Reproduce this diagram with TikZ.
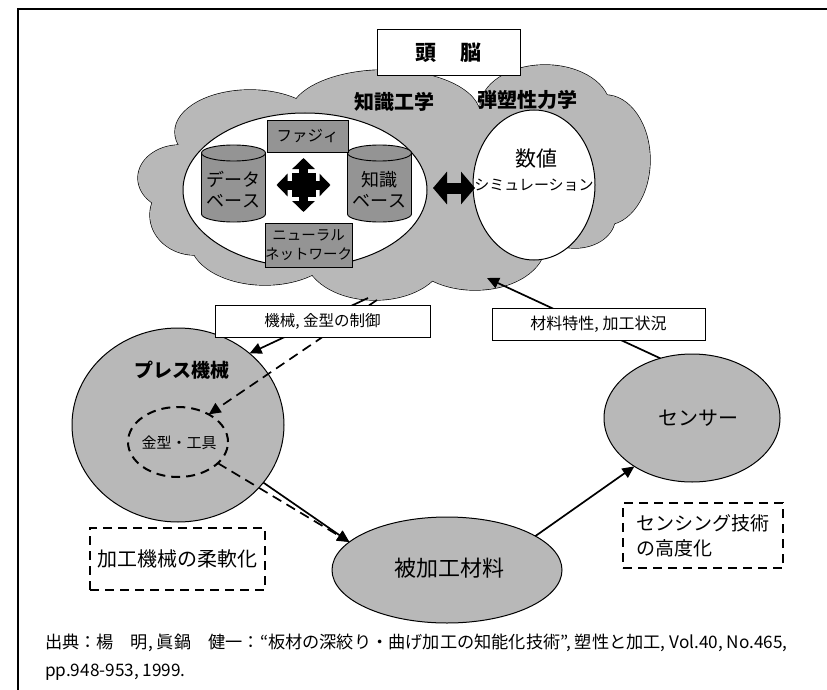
\documentclass[tikz,border=0pt]{standalone}
\usepackage{fontspec}
\setmainfont{Noto Sans CJK JP}
\usetikzlibrary{shapes.geometric,arrows.meta}
\definecolor{cloudgray}{gray}{0.72}
\definecolor{boxgray}{gray}{0.58}
\newcommand{\setfs}[2]{\fontsize{#1}{#2}\selectfont}
\begin{document}
\begin{tikzpicture}[x=1pt,y=-1pt,
  every node/.style={inner sep=0pt, outer sep=0pt},
  frameline/.style={line width=1.8pt},
  cloudline/.style={line width=1.3pt},
  blob/.style={ellipse, draw, line width=1pt, fill=cloudgray},
  graybox/.style={draw, line width=0.9pt, fill=boxgray},
  lbl/.style={draw, line width=0.9pt, fill=white},
  arr/.style={line width=1.7pt, -{Triangle[length=12pt,width=11pt]}},
  darr/.style={arr, dash pattern=on 10pt off 6pt},
  dbox/.style={draw, line width=1.6pt, dash pattern=on 9pt off 6pt},
  fat/.style={line width=9pt, -{Triangle[length=11pt,width=22pt]}},
]
\useasboundingbox (0,0) rectangle (827,690);
\draw[frameline] (18,690) -- (18,9) -- (827,9);

% cloud
\foreach \cx/\cy/\rx/\ry in {180/178/42/33, 250/132/75/42, 385/115/95/45, 545/108/65/43, 605/160/45/65, 575/218/40/30, 475/245/70/45, 375/255/70/45, 265/240/75/45, 195/215/45/40, 400/180/200/80}
  \draw[cloudline] (\cx,\cy) ellipse ({\rx} and {\ry});
\foreach \cx/\cy/\rx/\ry in {180/178/42/33, 250/132/75/42, 385/115/95/45, 545/108/65/43, 605/160/45/65, 575/218/40/30, 475/245/70/45, 375/255/70/45, 265/240/75/45, 195/215/45/40, 400/180/200/80}
  \fill[cloudgray] (\cx,\cy) ellipse ({\rx} and {\ry});

\node[lbl, line width=1pt, minimum width=143pt, minimum height=46pt, font=\bfseries\setfs{21}{25}] (brain) at (448.5,53) {頭\hspace{25pt}脳};
\node[font=\bfseries\setfs{20}{24}] (ke) at (394,102) {知識工学};
\node[font=\bfseries\setfs{20}{24}] (pm) at (527,100) {弾塑性力学};

% knowledge ellipse and simulation
\node[ellipse, draw, fill=white, line width=1pt, minimum width=244pt, minimum height=154pt] (kb) at (305,190) {};
\node[ellipse, draw, fill=white, line width=1pt, minimum width=122pt, minimum height=150pt] (sim) at (534,185) {};
\node[font=\setfs{21}{25}] (simtxt1) at (536,159) {数値};
\node[font=\setfs{15}{18}] (simtxt2) at (534,185) {シミュレーション};

% cylinders
\foreach \cx in {233.5,379.5} {
  \filldraw[fill=boxgray, line width=0.9pt] (\cx,214) ellipse (32 and 8);
  \fill[boxgray] (\cx-32,153) rectangle (\cx+32,214);
  \draw[line width=0.9pt] (\cx-32,153) -- (\cx-32,214) (\cx+32,153) -- (\cx+32,214);
  \filldraw[fill=boxgray, line width=0.9pt] (\cx,153) ellipse (32 and 8);
}
\node[align=center, font=\setfs{18}{21}] (db) at (233.5,190) {データ\\ベース};
\node[align=center, font=\setfs{18}{21}] (kbase) at (379.5,190) {知識\\ベース};
\node[graybox, minimum width=81pt, minimum height=32pt, font=\setfs{15.5}{18}] (fuzzy) at (307.5,136) {ファジィ};
\node[graybox, minimum width=87pt, minimum height=44pt, align=center, font=\setfs{14.5}{19}] (nn) at (308.5,245) {ニューラル\\ネットワーク};

% four-way arrow
\coordinate (hub) at (303.5,185);
\fill (hub) +(-12,-12) rectangle +(12,12);
\foreach \a in {0,90,180,270}
  \draw[fat] (hub) -- ++(\a:27);

% double arrow
\coordinate (dl) at (433,188);
\coordinate (dr) at (475,188);
\draw[line width=11pt, {Triangle[length=14pt,width=32pt]}-{Triangle[length=14pt,width=32pt]}] (dl) -- (dr);

% lower blobs
\node[blob, minimum width=212pt, minimum height=194pt] (press) at (178,425) {};
\node[font=\bfseries\setfs{19}{23}] (presstxt) at (182,370) {プレス機械};
\node[ellipse, dbox, line width=2pt, minimum width=100pt, minimum height=70pt] (tool) at (178,442) {};
\node[font=\setfs{15}{18}] (tooltxt) at (179,443) {金型・工具};
\node[blob, minimum width=176pt, minimum height=128pt] (sensor) at (692,418) {};
\node[font=\setfs{20}{24}] (sensortxt) at (698,418) {センサー};
\node[blob, minimum width=230pt, minimum height=106pt] (mat) at (447,570) {};
\node[font=\setfs{22}{26}] (mattxt) at (449,568) {被加工材料};

% arrows
\coordinate (cA) at (368,298);
\coordinate (cB) at (377,300);
\coordinate (cC) at (487,278);
\draw[arr] (cA) -- (press.45);
\draw[darr] (cB) -- (tool.42);
\draw[arr] (press.-34) -- (mat.164);
\draw[darr] (tool.-28) -- (mat.164);
\draw[arr] (mat.21) -- (sensor.220);
\draw[arr] (sensor.118) -- (cC);

% labels
\node[lbl, minimum width=215pt, minimum height=32pt, font=\setfs{15.5}{18}] (ctl) at (322.5,321) {機械, 金型の制御};
\node[lbl, minimum width=213pt, minimum height=32pt, font=\setfs{16}{19}] (prop) at (598.5,324) {材料特性, 加工状況};

% dashed boxes
\node[dbox, minimum width=175pt, minimum height=62pt, font=\setfs{20}{24}] (flex) at (177.5,559) {加工機械の柔軟化};
\node[dbox, minimum width=160pt, minimum height=65pt, align=left, font=\setfs{19}{25}] (sens) at (703,535.5) {センシング技術\\の高度化};

% caption
\node[anchor=base west, font=\setfs{17.2}{21}] (cap1) at (45,648) {出典：楊　明, 眞鍋　健一：“板材の深絞り・曲げ加工の知能化技術”, 塑性と加工, Vol.40, No.465,};
\node[anchor=base west, font=\setfs{17.2}{21}] (cap2) at (45,676) {pp.948-953, 1999.};
\end{tikzpicture}
\end{document}
